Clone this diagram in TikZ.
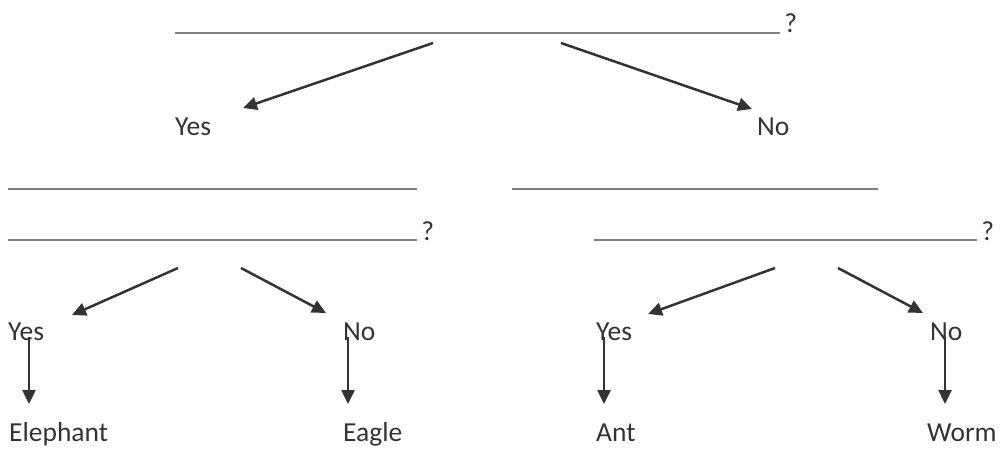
\documentclass[tikz,border=0pt]{standalone}
\usepackage{fontspec}
\setmainfont{Carlito}
\usetikzlibrary{arrows.meta}

\begin{document}
\begin{tikzpicture}[x=1pt,y=-1pt,
  blank/.style={black!50,line width=2.6pt},
  answer/.style={anchor=base west,inner sep=0pt,text=black!80,font=\fontsize{27.5}{32}\selectfont},
  branch/.style={-{Triangle[length=14pt,width=13pt]},line width=2.5pt,black!80}]

\useasboundingbox (0,0) rectangle (1000,449);

% first question
\draw[blank] (175,33)--(780,33) node[answer,xshift=3pt] (q1) {?};
\coordinate (q1l) at (433,43);
\coordinate (q1r) at (561,43);
\coordinate (yes1tip) at (243,108);
\coordinate (no1tip) at (752,109);
\node[answer] (yes1) at (175,136) {Yes};
\node[answer] (no1) at (757,136) {No};
\draw[branch] (q1l)--(yes1tip);
\draw[branch] (q1r)--(no1tip);

% second questions
\draw[blank] (8,189)--(417,189);
\draw[blank] (8,240)--(417,240) node[answer,xshift=3pt] (q2) {?};
\draw[blank] (512,189)--(878,189);
\draw[blank] (594,240)--(977,240) node[answer,xshift=3pt] (q3) {?};

\coordinate (q2l) at (178,268);
\coordinate (q2r) at (241,268);
\coordinate (q3l) at (775,268);
\coordinate (q3r) at (838,268);
\coordinate (yes2tip) at (72,315);
\coordinate (no2tip) at (326,313);
\coordinate (yes3tip) at (648,314);
\coordinate (no3tip) at (923,313);

\node[answer] (yes2) at (8,340) {Yes};
\node[answer] (no2) at (343,340) {No};
\node[answer] (yes3) at (596,340) {Yes};
\node[answer] (no3) at (930,340) {No};

\draw[branch] (q2l)--(yes2tip);
\draw[branch] (q2r)--(no2tip);
\draw[branch] (q3l)--(yes3tip);
\draw[branch] (q3r)--(no3tip);

% animals
\node[answer] (elephant) at (9,441) {Elephant};
\node[answer] (eagle) at (343,441) {Eagle};
\node[answer] (ant) at (596,441) {Ant};
\node[answer] (worm) at (927,441) {Worm};

\coordinate (yes2foot) at (29,404);
\coordinate (no2foot) at (348,404);
\coordinate (yes3foot) at (604,404);
\coordinate (no3foot) at (945,404);

\draw[branch] (yes2foot |- yes2.base)++(0,-3)--(yes2foot);
\draw[branch] (no2foot |- no2.base)++(0,-3)--(no2foot);
\draw[branch] (yes3foot |- yes3.base)++(0,-3)--(yes3foot);
\draw[branch] (no3foot |- no3.base)++(0,-3)--(no3foot);

\end{tikzpicture}
\end{document}
